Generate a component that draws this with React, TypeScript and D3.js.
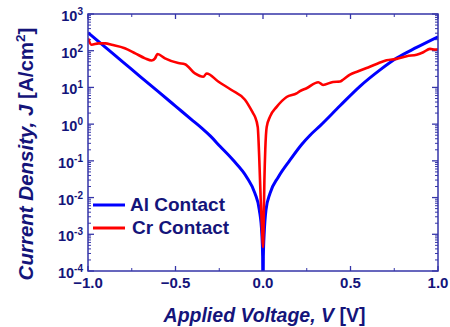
import React from "react";
import * as d3 from "d3";

// Al contact (blue)
const alVoltage = [-1.0, -0.9, -0.8, -0.7, -0.6, -0.5, -0.4, -0.35, -0.3, -0.246, -0.171, -0.093, -0.046, -0.021, -0.007, -0.002, 0,
  0.002, 0.007, 0.017, 0.04, 0.087, 0.154, 0.221, 0.269, 0.326, 0.44, 0.554, 0.669, 0.764, 0.878, 1.0];
const alCurrent = [309, 123, 49, 19.5, 7.8, 3.1, 1.23, 0.78, 0.47, 0.25, 0.105, 0.036, 0.013, 0.0046, 0.00107, 0.00025, 0.00001,
  0.00025, 0.0011, 0.0046, 0.013, 0.036, 0.105, 0.28, 0.5, 0.9, 3.16, 10.7, 30, 63, 123, 240];

// Cr contact (red)
const crVoltage = [-1.0, -0.98, -0.94, -0.9, -0.865, -0.79, -0.73, -0.674, -0.636, -0.617, -0.603, -0.56, -0.484, -0.446, -0.389,
  -0.341, -0.322, -0.256, -0.18, -0.103, -0.057, -0.046, -0.03, -0.021, -0.013, -0.004, 0,
  0.004, 0.008, 0.013, 0.021, 0.04, 0.078, 0.135, 0.192, 0.211, 0.249, 0.316, 0.343, 0.4, 0.44, 0.457, 0.497, 0.544, 0.592,
  0.649, 0.706, 0.764, 0.821, 0.878, 0.916, 0.954, 0.983, 1.0];
const crCurrent = [219, 145, 158, 158, 145, 117, 85, 62, 54, 62, 81, 62, 46, 43, 24,
  19.5, 24, 14.5, 8.5, 4.6, 2.0, 1.6, 0.83, 0.105, 0.0085, 0.001, 0.00045,
  0.0025, 0.03, 0.2, 0.83, 1.6, 2.95, 5.5, 6.9, 7.9, 9.5, 13.8, 11.7, 14.1, 14.5, 16.2, 22.4, 27.5, 33.9,
  43.6, 55, 60, 71, 78, 91, 112, 107, 110];

const xTicks = [-1.0, -0.5, 0.0, 0.5, 1.0];
const xMinorTicks = [-0.75, -0.25, 0.25, 0.75];
const yExponents = [3, 2, 1, 0, -1, -2, -3, -4];

const legendLabels = ["Al Contact", "Cr Contact"];

const W = 450, H = 327;
const left = 88, right = 438, top = 14, bottom = 271;
const axisColor = "#3535a8";
const textColor = "#14147a";
const font = "'Liberation Sans', Arial, sans-serif";

export default function App() {
  const x = d3.scaleLinear().domain([-1, 1]).range([left, right]);
  const y = d3.scaleLog().domain([1e-4, 1e3]).range([bottom, top]);

  const line = d3.line<[number, number]>().x(d => x(d[0])).y(d => y(d[1])).curve(d3.curveMonotoneX);
  const alPath = line(alVoltage.map((v, i) => [v, alCurrent[i]] as [number, number])) || "";
  const crPath = line(crVoltage.map((v, i) => [v, crCurrent[i]] as [number, number])) || "";

  const minorY: number[] = [];
  for (let e = -4; e < 3; e++) {
    for (let k = 2; k <= 9; k++) minorY.push(k * Math.pow(10, e));
  }

  return (
    <svg width={W} height={H} style={{ position: "absolute", left: 0, top: 0 }} fontFamily={font}>
      <defs>
        <clipPath id="plotClip">
          <rect x={left} y={top} width={right - left} height={bottom - top} />
        </clipPath>
      </defs>
      <rect x={0} y={0} width={W} height={H} fill="#fff" />

      {/* minor y ticks */}
      {minorY.map((v, i) => (
        <g key={"my" + i} stroke={axisColor} strokeWidth={1}>
          <line x1={left} x2={left + 3} y1={y(v)} y2={y(v)} />
          <line x1={right} x2={right - 3} y1={y(v)} y2={y(v)} />
        </g>
      ))}
      {/* major y ticks */}
      {yExponents.map(e => (
        <g key={"My" + e} stroke={axisColor} strokeWidth={1.3}>
          <line x1={left} x2={left + 6} y1={y(Math.pow(10, e))} y2={y(Math.pow(10, e))} />
          <line x1={right} x2={right - 6} y1={y(Math.pow(10, e))} y2={y(Math.pow(10, e))} />
        </g>
      ))}
      {/* x ticks */}
      {xTicks.map(v => (
        <g key={"Mx" + v} stroke={axisColor} strokeWidth={1.3}>
          <line x1={x(v)} x2={x(v)} y1={bottom} y2={bottom - 5} />
          <line x1={x(v)} x2={x(v)} y1={top} y2={top + 5} />
        </g>
      ))}
      {xMinorTicks.map(v => (
        <g key={"mx" + v} stroke={axisColor} strokeWidth={1}>
          <line x1={x(v)} x2={x(v)} y1={bottom} y2={bottom - 3} />
          <line x1={x(v)} x2={x(v)} y1={top} y2={top + 3} />
        </g>
      ))}

      <g clipPath="url(#plotClip)" fill="none" strokeLinejoin="round">
        <path d={alPath} stroke="#0000ff" strokeWidth={3} />
        <path d={crPath} stroke="#ff0000" strokeWidth={2.6} />
      </g>

      <rect x={left} y={top} width={right - left} height={bottom - top} fill="none" stroke={axisColor} strokeWidth={1.5} />

      {/* y tick labels */}
      {yExponents.map(e => (
        <text key={"ly" + e} x={83} y={y(Math.pow(10, e)) + 7} textAnchor="end" fontWeight="bold" fontSize={14.5} fill={textColor}>
          10<tspan fontSize={10} dy={-6}>{String(e)}</tspan>
        </text>
      ))}
      {/* x tick labels */}
      {xTicks.map(v => (
        <text key={"lx" + v} x={x(v)} y={288} textAnchor="middle" fontWeight="bold" fontSize={15} fill={textColor}>
          {d3.format(".1f")(v)}
        </text>
      ))}

      {/* axis titles */}
      <text x={264.5} y={322} textAnchor="middle" fontWeight="bold" fontSize={19.5} fill={textColor}>
        <tspan fontStyle="italic">Applied Voltage, V</tspan>
        <tspan> [V]</tspan>
      </text>
      <text transform="translate(33,154) rotate(-90)" textAnchor="middle" fontWeight="bold" fontSize={20.5} fill={textColor}>
        <tspan fontStyle="italic">Current Density,  J</tspan>
        <tspan> [A/cm</tspan>
        <tspan fontSize={13.5} dy={-8}>2</tspan>
        <tspan dy={8}>]</tspan>
      </text>

      {/* legend */}
      <line x1={93} x2={125} y1={205} y2={205} stroke="#0000ff" strokeWidth={3} />
      <text x={130} y={211} fontWeight="bold" fontSize={19} fill={textColor}>{legendLabels[0]}</text>
      <line x1={93} x2={125} y1={228} y2={228} stroke="#ff0000" strokeWidth={3} />
      <text x={132} y={234} fontWeight="bold" fontSize={19} fill={textColor}>{legendLabels[1]}</text>
    </svg>
  );
}
